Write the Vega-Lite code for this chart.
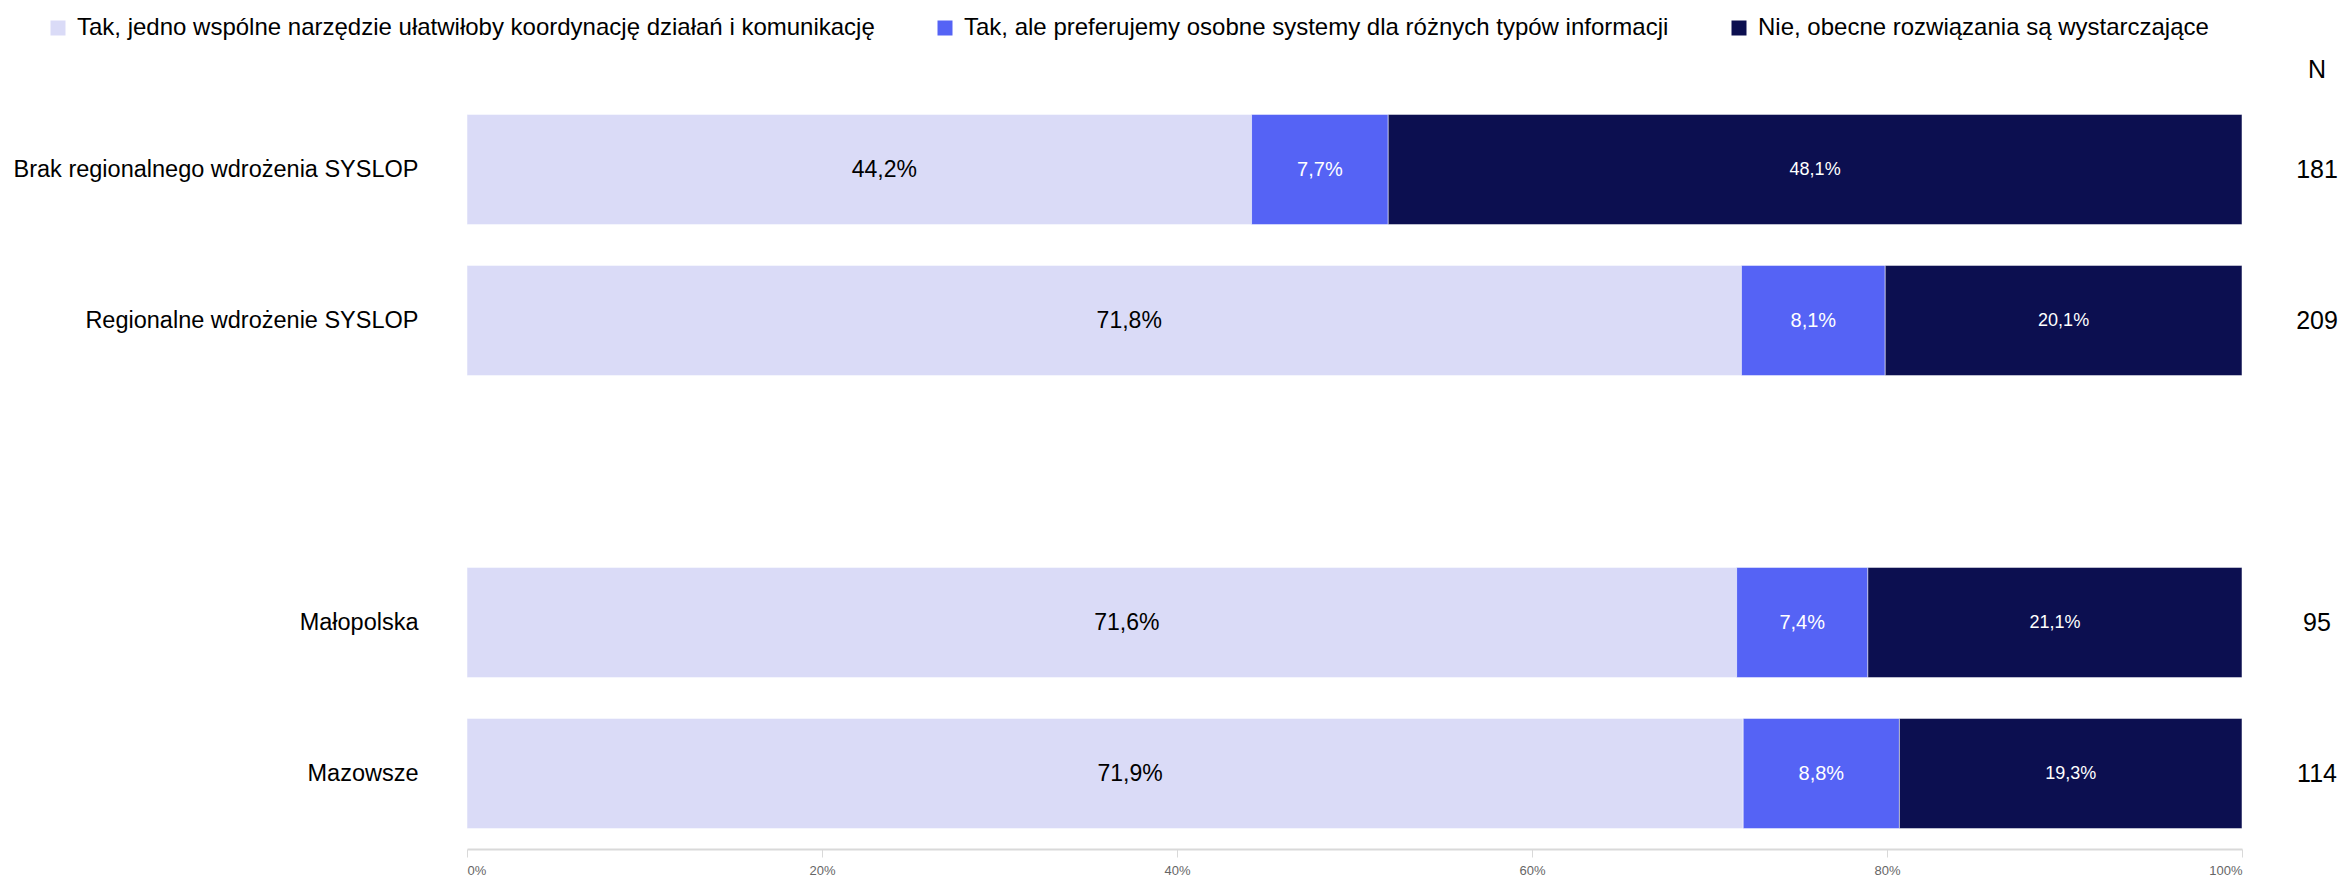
{
  "$schema": "https://vega.github.io/schema/vega-lite/v6.json",
  "autosize": {"type": "none"},
  "padding": {"left": 467, "top": 94, "right": 104, "bottom": 28},
  "width": 1775,
  "height": 755,
  "background": "white",
  "config": {
    "view": {"stroke": null},
    "font": "Liberation Sans",
    "locale": {"number": {"decimal": ",", "thousands": " ", "grouping": [3], "currency": ["", " zł"]}}
  },
  "data": {"values": [
    {"cat": "Brak regionalnego wdrożenia SYSLOP", "answer": "Tak, jedno wspólne narzędzie ułatwiłoby koordynację działań i komunikację", "k": 1, "v": 44.2, "n": 181},
    {"cat": "Brak regionalnego wdrożenia SYSLOP", "answer": "Tak, ale preferujemy osobne systemy dla różnych typów informacji", "k": 2, "v": 7.7, "n": 181},
    {"cat": "Brak regionalnego wdrożenia SYSLOP", "answer": "Nie, obecne rozwiązania są wystarczające", "k": 3, "v": 48.1, "n": 181},
    {"cat": "Regionalne wdrożenie SYSLOP", "answer": "Tak, jedno wspólne narzędzie ułatwiłoby koordynację działań i komunikację", "k": 1, "v": 71.8, "n": 209},
    {"cat": "Regionalne wdrożenie SYSLOP", "answer": "Tak, ale preferujemy osobne systemy dla różnych typów informacji", "k": 2, "v": 8.1, "n": 209},
    {"cat": "Regionalne wdrożenie SYSLOP", "answer": "Nie, obecne rozwiązania są wystarczające", "k": 3, "v": 20.1, "n": 209},
    {"cat": "Małopolska", "answer": "Tak, jedno wspólne narzędzie ułatwiłoby koordynację działań i komunikację", "k": 1, "v": 71.6, "n": 95},
    {"cat": "Małopolska", "answer": "Tak, ale preferujemy osobne systemy dla różnych typów informacji", "k": 2, "v": 7.4, "n": 95},
    {"cat": "Małopolska", "answer": "Nie, obecne rozwiązania są wystarczające", "k": 3, "v": 21.1, "n": 95},
    {"cat": "Mazowsze", "answer": "Tak, jedno wspólne narzędzie ułatwiłoby koordynację działań i komunikację", "k": 1, "v": 71.9, "n": 114},
    {"cat": "Mazowsze", "answer": "Tak, ale preferujemy osobne systemy dla różnych typów informacji", "k": 2, "v": 8.8, "n": 114},
    {"cat": "Mazowsze", "answer": "Nie, obecne rozwiązania są wystarczające", "k": 3, "v": 19.3, "n": 114}
  ]},
  "transform": [
    {"stack": "v", "groupby": ["cat"], "sort": [{"field": "k", "order": "ascending"}], "offset": "normalize", "as": ["x0", "x1"]},
    {"calculate": "(datum.x0 + datum.x1) / 2", "as": "mid"},
    {"calculate": "datum.v / 100", "as": "frac"}
  ],
  "encoding": {
    "y": {
      "field": "cat", "type": "nominal",
      "scale": {"domain": ["Brak regionalnego wdrożenia SYSLOP", "Regionalne wdrożenie SYSLOP", " ", "Małopolska", "Mazowsze"], "paddingInner": 0.27, "paddingOuter": 0.135},
      "axis": {"title": null, "domain": false, "ticks": false, "labelFontSize": 23.5, "labelColor": "#000000", "labelPadding": 49, "labelLimit": 600}
    }
  },
  "layer": [
    {
      "mark": {"type": "bar", "stroke": "#ffffff", "strokeWidth": 1, "strokeOpacity": 0.5},
      "encoding": {
        "x": {"field": "x0", "type": "quantitative", "scale": {"domain": [0, 1], "nice": false},
          "axis": {"title": null, "format": ".0%", "values": [0, 0.2, 0.4, 0.6, 0.8, 1], "grid": false, "domainColor": "#d9d9d9", "domainWidth": 2, "tickColor": "#d9d9d9", "tickSize": 8, "tickWidth": 1, "labelFontSize": 13, "labelColor": "#666666", "labelPadding": 7}},
        "x2": {"field": "x1"},
        "color": {"field": "answer", "type": "nominal",
          "scale": {"domain": ["Tak, jedno wspólne narzędzie ułatwiłoby koordynację działań i komunikację", "Tak, ale preferujemy osobne systemy dla różnych typów informacji", "Nie, obecne rozwiązania są wystarczające"], "range": ["#DADBF7", "#5563F5", "#0C0F50"]},
          "legend": {"title": null, "orient": "none", "direction": "horizontal", "legendX": -421, "legendY": -78, "symbolType": "square", "symbolSize": 225, "symbolStrokeWidth": 0, "symbolOpacity": 1, "labelFontSize": 24, "labelColor": "#000000", "labelOffset": 7, "columnPadding": 58, "labelLimit": 1000, "padding": 0}}
      }
    },
    {
      "transform": [{"filter": "datum.k === 1"}],
      "mark": {"type": "text", "baseline": "middle", "align": "center", "dx": 25, "fontSize": 23, "color": "#000000"},
      "encoding": {
        "x": {"field": "mid", "type": "quantitative"},
        "text": {"field": "frac", "type": "quantitative", "format": ".1%"}
      }
    },
    {
      "transform": [{"filter": "datum.k !== 1"}],
      "mark": {"type": "text", "baseline": "middle", "align": "center", "color": "#ffffff"},
      "encoding": {
        "x": {"field": "mid", "type": "quantitative"},
        "text": {"field": "frac", "type": "quantitative", "format": ".1%"},
        "size": {"condition": {"test": "datum.k === 2", "value": 20}, "value": 18}
      }
    },
    {
      "transform": [{"filter": "datum.k === 1"}],
      "mark": {"type": "text", "baseline": "middle", "align": "center", "dx": 75, "fontSize": 25, "color": "#000000"},
      "encoding": {
        "x": {"datum": 1, "type": "quantitative"},
        "text": {"field": "n", "type": "nominal"}
      }
    },
    {
      "transform": [{"filter": "datum.k === 1 && datum.n === 181"}],
      "mark": {"type": "text", "baseline": "middle", "align": "center", "dx": 75, "dy": -100, "fontSize": 25, "color": "#000000"},
      "encoding": {
        "x": {"datum": 1, "type": "quantitative"},
        "text": {"value": "N"}
      }
    }
  ]
}
